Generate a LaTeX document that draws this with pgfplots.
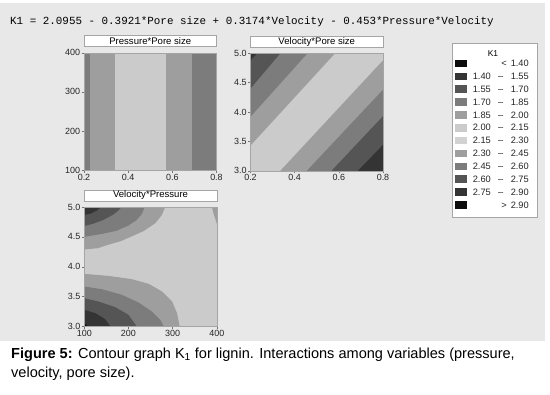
\documentclass[border=0pt]{standalone}
\usepackage{fontspec}
\setmainfont{Liberation Sans}
\setmonofont{Liberation Mono}
\usepackage{pgfplots}
\pgfplotsset{compat=1.18}

\definecolor{bg}{RGB}{232,232,232}
\definecolor{cA}{RGB}{12,12,12}
\definecolor{cB}{RGB}{52,52,52}
\definecolor{cC}{RGB}{85,85,85}
\definecolor{cD}{RGB}{124,124,124}
\definecolor{cE}{RGB}{158,158,158}
\definecolor{cF}{RGB}{203,203,203}
\definecolor{cG}{RGB}{210,210,210}
\definecolor{frm}{RGB}{165,165,165}

\pgfplotsset{
  panel/.style={
    scale only axis, width=132.5bp, height=117.5bp,
    axis on top, axis line style={draw=frm},
    tick pos=left, tick align=outside, major tick length=2.5bp,
    tick style={draw=black!55, line width=0.4pt},
    /pgf/number format/assume math mode=true,
    ticklabel style={font=\fontsize{9}{10}\selectfont, text=black!85, inner sep=1.2bp},
    title style={at={(0.5,1)}, anchor=south, fill=white, draw=frm,
      minimum width=132.5bp, minimum height=11bp, inner sep=0pt,
      font=\fontsize{9.6}{10}\selectfont},
  },
  fl/.style={fill=#1, draw=none, forget plot},
}

\newcommand{\rng}[2]{\makebox[20bp][l]{#1}\makebox[16bp]{–}\makebox[20bp][r]{#2}}

\begin{document}
\begin{tikzpicture}
\path[use as bounding box] (0,0) rectangle (550bp,-395bp);
\fill[bg] (0,-3bp) rectangle (545bp,-341bp);

\node[anchor=base west, inner sep=0pt, font=\ttfamily\fontsize{10.93}{12}\selectfont] at (10bp,-24bp)
  {K1 = 2.0955 - 0.3921*Pore size + 0.3174*Velocity - 0.453*Pressure*Velocity};

% ---------- Panel 1: Pressure*Pore size
\begin{axis}[panel, at={(84bp,-52.7bp)}, anchor=north west,
  xmin=0.2, xmax=0.8, ymin=100, ymax=400,
  xtick={0.2,0.4,0.6,0.8}, xticklabels={0.2,0.4,0.6,0.8},
  ytick={100,200,300,400}, yticklabels={100,200,300,400},
  title={Pressure*Pore size}]
\addplot[fl=cD] coordinates {(0.2,100) (0.8,100) (0.8,400) (0.2,400)} --cycle;
\addplot[fl=cE] coordinates {(0.227,100) (0.691,100) (0.691,400) (0.227,400)} --cycle;
\addplot[fl=cF] coordinates {(0.340,100) (0.571,100) (0.571,400) (0.340,400)} --cycle;
\end{axis}

% ---------- Panel 2: Velocity*Pore size
\begin{axis}[panel, at={(250.5bp,-53.3bp)}, anchor=north west,
  xmin=0.2, xmax=0.8, ymin=3, ymax=5,
  xtick={0.2,0.4,0.6,0.8}, xticklabels={0.2,0.4,0.6,0.8},
  ytick={3,3.5,4,4.5,5}, yticklabels={3.0,3.5,4.0,4.5,5.0},
  title={Velocity*Pore size}]
\addplot[fl=cF] coordinates {(0.2,3) (0.8,3) (0.8,5) (0.2,5)} --cycle;
\addplot[fl=cE] coordinates {(0.2,3.43) (0.583,5) (0.2,5)} --cycle;
\addplot[fl=cD] coordinates {(0.2,3.92) (0.458,5) (0.2,5)} --cycle;
\addplot[fl=cC] coordinates {(0.2,4.40) (0.335,5) (0.2,5)} --cycle;
\addplot[fl=cB] coordinates {(0.2,4.88) (0.23,5) (0.2,5)} --cycle;
\addplot[fl=cE] coordinates {(0.335,3) (0.8,4.88) (0.8,3)} --cycle;
\addplot[fl=cD] coordinates {(0.455,3) (0.8,4.38) (0.8,3)} --cycle;
\addplot[fl=cC] coordinates {(0.567,3) (0.8,3.93) (0.8,3)} --cycle;
\addplot[fl=cB] coordinates {(0.686,3) (0.8,3.44) (0.8,3)} --cycle;
\end{axis}

% ---------- Panel 3: Velocity*Pressure
\begin{axis}[panel, height=119.5bp, at={(84.3bp,-207bp)}, anchor=north west,
  xmin=100, xmax=400, ymin=3, ymax=5,
  xtick={100,200,300,400}, xticklabels={100,200,300,400},
  ytick={3,3.5,4,4.5,5}, yticklabels={3.0,3.5,4.0,4.5,5.0},
  title={Velocity*Pressure}]
\addplot[fl=cF] coordinates {(100,3) (400,3) (400,5) (100,5)} --cycle;
% top left
\addplot[fl=cE] coordinates {(100,5) (100,4.29) (130,4.31) (155,4.37) (183,4.43) (208,4.51) (235,4.60) (261,4.73) (276,4.87) (283,5)} --cycle;
\addplot[fl=cD] coordinates {(100,5) (100,4.50) (140,4.55) (172,4.60) (200,4.69) (218,4.78) (230,4.88) (237,5)} --cycle;
\addplot[fl=cC] coordinates {(100,5) (100,4.683) (120,4.72) (142,4.78) (165,4.87) (177,4.94) (184,5)} --cycle;
\addplot[fl=cB] coordinates {(100,5) (100,4.866) (115,4.89) (128,4.94) (138,5)} --cycle;
% top right wedge
\addplot[fl=cE] coordinates {(389,5) (393,4.88) (400,4.72) (400,5)} --cycle;
% bottom left
\addplot[fl=cE] coordinates {(100,3) (100,3.881) (155,3.847) (208,3.792) (246,3.713) (276,3.585) (299,3.418) (310,3.223) (316,3.0)} --cycle;
\addplot[fl=cD] coordinates {(100,3) (100,3.669) (140,3.624) (185,3.530) (223,3.401) (253,3.251) (272,3.112) (280,3.0)} --cycle;
\addplot[fl=cC] coordinates {(100,3) (100,3.474) (132,3.418) (170,3.324) (200,3.195) (219,3.0)} --cycle;
\addplot[fl=cB] coordinates {(100,3) (100,3.279) (125,3.223) (147,3.124) (159,3.0)} --cycle;
\addplot[fl=cA] coordinates {(100,3) (100,3.05) (108,3.0)} --cycle;
\end{axis}

% ---------- legend
\fill[white, draw=frm] (452bp,-43bp) rectangle (537bp,-217bp);
\node[font=\fontsize{8.5}{9}\selectfont] at (493bp,-54bp) {K1};
\foreach \c/\t [count=\i from 0] in {
  cA/{<}\hspace{4bp}1.40,
  cB/\rng{1.40}{1.55},
  cC/\rng{1.55}{1.70},
  cD/\rng{1.70}{1.85},
  cE/\rng{1.85}{2.00},
  cF/\rng{2.00}{2.15},
  cG/\rng{2.15}{2.30},
  cE/\rng{2.30}{2.45},
  cD/\rng{2.45}{2.60},
  cC/\rng{2.60}{2.75},
  cB/\rng{2.75}{2.90},
  cA/{>}\hspace{4bp}2.90}{
  \pgfmathsetmacro{\yy}{-63.5-12.85*\i}
  \fill[\c] (455bp,\yy bp-3.8bp) rectangle (467bp,\yy bp+3.8bp);
  \node[anchor=east, inner sep=0pt, font=\fontsize{9.3}{10}\selectfont, text=black!85] at (529bp,\yy bp) {\t};
}

% ---------- caption
\node[anchor=base west, inner sep=0pt, font=\fontsize{14.6}{16}\selectfont] at (11bp,-358.5bp)
  {\textbf{Figure 5:} Contour graph K\textsubscript{1} for lignin. Interactions among variables (pressure,};
\node[anchor=base west, inner sep=0pt, font=\fontsize{14.6}{16}\selectfont] at (11bp,-377bp)
  {velocity, pore size).};
\end{tikzpicture}
\end{document}
